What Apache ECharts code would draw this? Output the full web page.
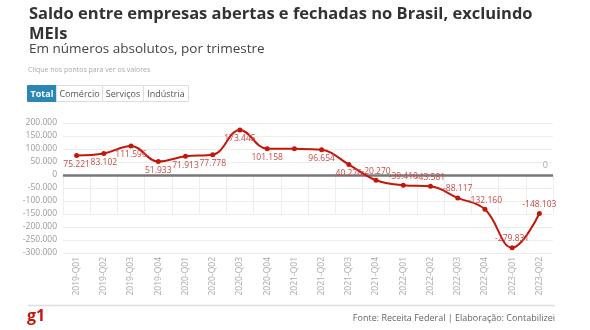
<!DOCTYPE html>
<html><head><meta charset="utf-8">
<script src="https://cdn.jsdelivr.net/npm/echarts@6/dist/echarts.min.js"></script>
<style>html,body{margin:0;padding:0;background:#fff}#c{width:590px;height:330px}</style>
</head><body><div id="c"></div>
<script>
const categories = ['2019-Q01','2019-Q02','2019-Q03','2019-Q04','2020-Q01','2020-Q02','2020-Q03','2020-Q04','2021-Q01','2021-Q02','2021-Q03','2021-Q04','2022-Q01','2022-Q02','2022-Q03','2022-Q04','2023-Q01','2023-Q02'];
const saldo = [75221, 83102, 111596, 51933, 71913, 77778, 173445, 101158, 100600, 96654, 40276, -20270, -39410, -43581, -88117, -132160, -279831, -148103];
const hiddenLabels = ['2021-Q01'];
const buttons = ['Total','Comércio','Serviços','Indústria'];

const fmt = v => {
  const s = Math.abs(v).toString().replace(/\B(?=(\d{3})+(?!\d))/g, '.');
  return (v < 0 ? '-' : '') + s;
};
const F = '"Open Sans", "Noto Sans", sans-serif';
const red = '#c4170c';

const chart = echarts.init(document.getElementById('c'), null, {renderer: 'canvas'});

// button graphics
const btnW = [29, 46, 41, 45];
const btnEls = [];
let bx = 27;
buttons.forEach((b, i) => {
  const active = i === 0;
  btnEls.push({type:'rect', shape:{x: bx + 0.5, y: 85.5, width: btnW[i], height: 16},
    style:{fill: active ? '#2b86b6' : '#fff', stroke: active ? '#2b86b6' : '#dddddd', lineWidth: 1}});
  btnEls.push({type:'text', x: bx + btnW[i] / 2 + 0.5, y: 94,
    style:{text: b, fill: active ? '#fff' : '#555', font: (active ? 'bold ' : '') + '9px ' + F,
      textAlign: 'center', textVerticalAlign: 'middle'}});
  bx += btnW[i];
});

chart.setOption({
  animation: false,
  textStyle: {fontFamily: F},
  title: [
    {text: 'Saldo entre empresas abertas e fechadas no Brasil, excluindo\nMEIs', left: 24, top: -1,
     textStyle: {fontSize: 16.5, fontWeight: 'bold', color: '#333', lineHeight: 20, fontFamily: F}},
    {text: 'Em números absolutos, por trimestre', left: 24, top: 37,
     textStyle: {fontSize: 13.5, fontWeight: 'normal', color: '#444', fontFamily: F}},
    {text: 'Clique nos pontos para ver os valores', left: 23, top: 61,
     textStyle: {fontSize: 7, fontWeight: 'normal', color: '#aaa', fontFamily: F}},
    {text: 'Fonte: Receita Federal | Elaboração: Contabilizei', right: 30, top: 309,
     textStyle: {fontSize: 9, fontWeight: 'normal', color: '#666', fontFamily: F}}
  ],
  graphic: btnEls.concat([
    {type:'line', shape:{x1:28, y1:305.5, x2:555, y2:305.5}, style:{stroke:'#ddd', lineWidth:1.5}},
    {type:'text', x: 27, y: 308, style:{text:'g1', fill: red, font:'bold 16px ' + F}}
  ]),
  grid: {left: 63, right: 37, top: 123, bottom: 77},
  xAxis: {
    type: 'category', data: categories, boundaryGap: true,
    axisLine: {show: true, lineStyle: {color: '#e6e6e6'}},
    axisTick: {show: true, length: 39, lineStyle: {color: '#eeeeee'}},
    axisLabel: {rotate: 90, fontSize: 8.5, color: '#aaa', margin: 4, fontFamily: F}
  },
  yAxis: {
    type: 'value', min: -300000, max: 200000, interval: 50000,
    axisLabel: {formatter: fmt, fontSize: 8.5, color: '#999', margin: 6, fontFamily: F},
    axisLine: {show: false}, axisTick: {show: false},
    splitLine: {lineStyle: {color: '#eeeeee'}}
  },
  series: [{
    type: 'line', smooth: 0.4,
    data: saldo.map((v, i) => ({value: v, label: {
      show: hiddenLabels.indexOf(categories[i]) < 0,
      position: v >= 0 ? 'bottom' : 'top'}})),
    symbol: 'circle', symbolSize: 5,
    lineStyle: {color: red, width: 2},
    itemStyle: {color: red},
    label: {formatter: p => fmt(p.value), fontSize: 8.5, color: '#c84a42', distance: 2, fontFamily: F},
    markLine: {
      silent: true, symbol: 'none',
      lineStyle: {color: '#777', width: 2.5, type: 'solid'},
      label: {position: 'insideEndTop', formatter: '0', color: '#aaa', fontSize: 9, fontFamily: F},
      data: [{yAxis: 0}]
    },
    z: 5
  }]
});
</script></body></html>
